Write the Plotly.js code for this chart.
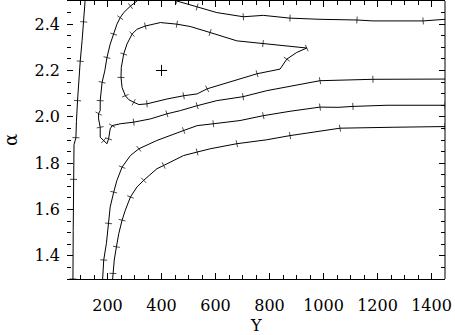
<!DOCTYPE html>
<html>
<head>
<meta charset="utf-8">
<script src="https://cdn.plot.ly/plotly-3.0.1.min.js"></script>
<style>html,body{margin:0;padding:0;background:#fff;}#chart{width:455px;height:335px;}</style>
</head>
<body>
<div id="chart"></div>
<script>
// Contour A (outermost, left edge)
const contourA_x = [117, 112, 106, 99, 93, 89, 85, 83, 76, 74, 73, 72];
const contourA_y = [2.50, 2.41, 2.33, 2.24, 2.16, 2.07, 1.98, 1.91, 1.88, 1.73, 1.51, 1.30];

// Contour B, upper branch (enters from right edge, leaves through top)
const contourB1_x = [1450, 1369, 1183, 1124, 987, 876, 777, 703, 605, 532, 506, 457];
const contourB1_y = [2.421, 2.414, 2.414, 2.418, 2.421, 2.426, 2.438, 2.432, 2.450, 2.474, 2.481, 2.50];

// Contour B, main branch (from top, down left side, then to right edge)
const contourB2_x = [309, 285, 260, 247, 235, 223, 210, 198, 190, 180, 176, 173, 173, 167, 167, 173, 173, 186, 198, 204, 210, 217, 247, 297, 359, 420, 470, 532, 605, 702, 790, 987, 1087, 1183, 1450];
const contourB2_y = [2.500, 2.478, 2.450, 2.428, 2.400, 2.357, 2.314, 2.256, 2.199, 2.149, 2.113, 2.070, 2.027, 2.014, 1.991, 1.955, 1.912, 1.898, 1.884, 1.905, 1.948, 1.962, 1.970, 1.977, 1.991, 2.013, 2.027, 2.048, 2.070, 2.087, 2.113, 2.156, 2.159, 2.162, 2.163];

// Contour C (closed inner loop around the maximum)
const contourC_x = [938, 776, 679, 580, 506, 457, 396, 340, 309, 291, 272, 260, 251, 250, 254, 266, 279, 297, 316, 346, 420, 482, 532, 569, 665, 754, 839, 864, 901, 938];
const contourC_y = [2.297, 2.316, 2.328, 2.364, 2.390, 2.400, 2.407, 2.392, 2.378, 2.357, 2.314, 2.271, 2.213, 2.170, 2.127, 2.091, 2.074, 2.063, 2.053, 2.056, 2.077, 2.091, 2.099, 2.121, 2.156, 2.186, 2.206, 2.249, 2.278, 2.297];

// Contour D
const contourD_x = [182, 186, 196, 204, 210, 223, 235, 254, 285, 316, 383, 482, 532, 592, 691, 777, 876, 987, 1054, 1109, 1235, 1450];
const contourD_y = [1.300, 1.382, 1.454, 1.540, 1.611, 1.675, 1.726, 1.783, 1.833, 1.862, 1.898, 1.941, 1.962, 1.970, 1.984, 2.005, 2.024, 2.042, 2.041, 2.045, 2.050, 2.050];

// Contour E
const contourE_x = [219, 220, 225, 233, 242, 254, 266, 285, 309, 334, 383, 408, 482, 532, 580, 679, 790, 876, 987, 1061, 1258, 1450];
const contourE_y = [1.300, 1.324, 1.382, 1.439, 1.497, 1.554, 1.597, 1.654, 1.697, 1.726, 1.776, 1.790, 1.833, 1.848, 1.862, 1.884, 1.901, 1.919, 1.937, 1.951, 1.955, 1.958];

// Best-fit point
const best_x = [400];
const best_y = [2.2];

// Tick labels and axis titles
const xTicks = [200, 400, 600, 800, 1000, 1200, 1400];
const yTicks = [1.4, 1.6, 1.8, 2.0, 2.2, 2.4];
const xTitle = 'Y';
const yTitle = 'α';

function contour(x, y) {
  return {
    type: 'scatter', mode: 'lines+markers', x: x, y: y,
    line: {color: 'black', width: 1},
    marker: {
      symbol: 'line-ew', size: x.map((_, i) => (i % 2 === 1 ? 5 : 0)),
      angleref: 'previous', color: 'black',
      line: {color: 'black', width: 1}
    },
    hoverinfo: 'skip', showlegend: false
  };
}

const data = [
  contour(contourA_x, contourA_y),
  contour(contourB1_x, contourB1_y),
  contour(contourB2_x, contourB2_y),
  contour(contourC_x, contourC_y),
  contour(contourD_x, contourD_y),
  contour(contourE_x, contourE_y),
  {
    type: 'scatter', mode: 'markers', x: best_x, y: best_y,
    marker: {symbol: 'cross-thin-open', size: 8, color: 'black', line: {color: 'black', width: 1}},
    hoverinfo: 'skip', showlegend: false
  }
];

const font = {family: 'DejaVu Serif', size: 16, color: 'black'};

const layout = {
  width: 455, height: 335,
  margin: {l: 67, r: 10, t: 1, b: 56, pad: 0},
  paper_bgcolor: 'white', plot_bgcolor: 'white',
  font: font,
  showlegend: false,
  xaxis: {
    range: [50, 1450], tickvals: xTicks, ticktext: xTicks.map(String),
    ticks: 'inside', ticklen: 6, tickwidth: 1, tickcolor: 'black',
    minor: {dtick: 50, tick0: 0, ticks: 'inside', ticklen: 4, tickcolor: 'black', tickwidth: 1, showgrid: false},
    showline: true, linecolor: 'black', linewidth: 1, mirror: 'allticks',
    showgrid: false, zeroline: false,
    tickfont: font, ticklabelstandoff: 12
  },
  yaxis: {
    range: [1.3, 2.5], tickvals: yTicks, ticktext: yTicks.map(v => v.toFixed(1)),
    ticks: 'inside', ticklen: 6, tickwidth: 1, tickcolor: 'black',
    minor: {dtick: 0.05, tick0: 0, ticks: 'inside', ticklen: 4, tickcolor: 'black', tickwidth: 1, showgrid: false},
    showline: false, mirror: 'allticks',
    showgrid: false, zeroline: false,
    tickfont: font, ticklabelstandoff: 6,
    title: {text: yTitle, font: {family: 'DejaVu Serif', size: 18, color: 'black'}, standoff: 14}
  },
  annotations: [
    {text: xTitle, xref: 'paper', yref: 'paper', x: 0.5, y: 0, xanchor: 'center', yanchor: 'top',
     yshift: -35, showarrow: false, font: font}
  ],
  shapes: [
    {type: 'line', xref: 'paper', yref: 'paper', x0: 1, x1: 1, y0: 0, y1: 1, line: {color: 'black', width: 1}}
  ]
};

Plotly.newPlot('chart', data, layout, {staticPlot: true, displayModeBar: false});
</script>
</body>
</html>
